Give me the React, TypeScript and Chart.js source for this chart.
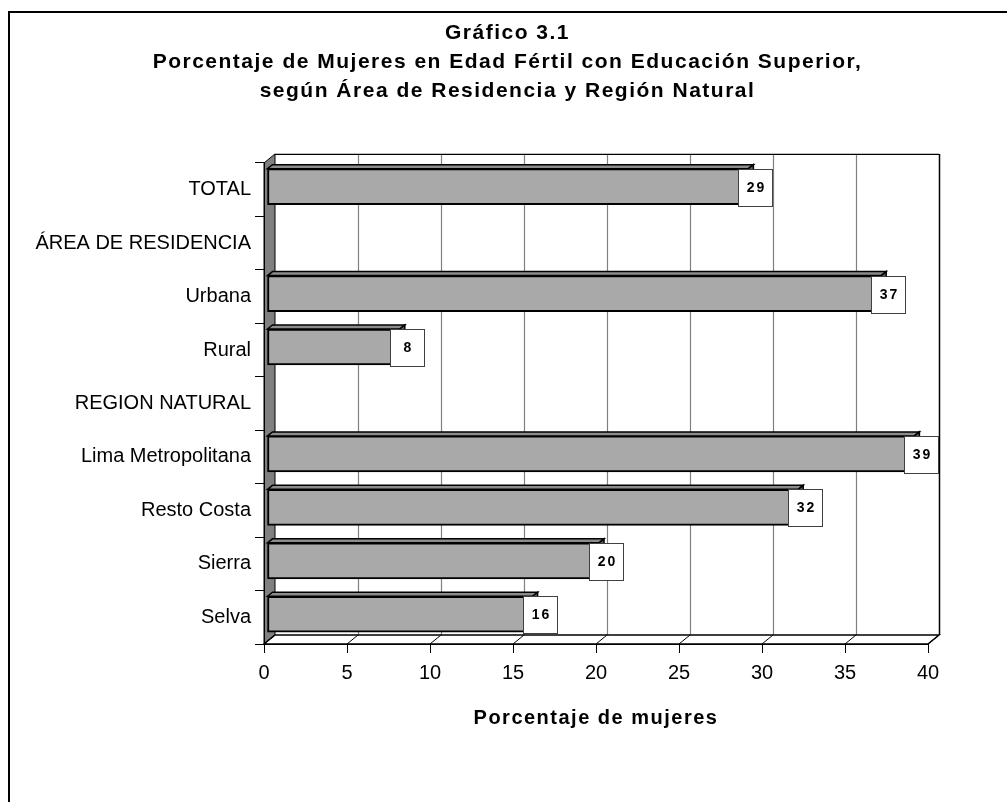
import React, { useEffect, useRef } from 'react';
import { Chart, registerables } from 'chart.js';

Chart.register(...registerables);

const categories = ['TOTAL', 'ÁREA DE RESIDENCIA', 'Urbana', 'Rural', 'REGION NATURAL', 'Lima Metropolitana', 'Resto Costa', 'Sierra', 'Selva'];
const values: (number | null)[] = [29, null, 37, 8, null, 39, 32, 20, 16];
const xTickValues = [0, 5, 10, 15, 20, 25, 30, 35, 40];
const titleLines = ['Gráfico 3.1', 'Porcentaje de Mujeres en Edad Fértil con Educación Superior,', 'según Área de Residencia y Región Natural'];
const xAxisTitle = 'Porcentaje de mujeres';

const FONT = '"Liberation Sans", Arial, Helvetica, sans-serif';
const DX = 11;
const DY = 9;
const BDX = 5;
const BDY = 4;
const SHIFT = 3;

const threeD = {
  id: 'threeD',
  afterDatasetsUpdate(chart: any) {
    const meta = chart.getDatasetMeta(0);
    meta.data.forEach((el: any) => {
      el.x += SHIFT;
      el.base += SHIFT;
      el.y -= SHIFT;
    });
  },
  beforeDraw(chart: any) {
    const ctx = chart.ctx;
    const { left, right, top, bottom } = chart.chartArea;
    const xs = chart.scales.x;
    ctx.save();
    ctx.letterSpacing = '0px';
    // outer border
    ctx.strokeStyle = '#000';
    ctx.lineWidth = 2;
    ctx.beginPath();
    ctx.moveTo(9, 840);
    ctx.lineTo(9, 12);
    ctx.lineTo(1040, 12);
    ctx.stroke();

    // back wall
    ctx.fillStyle = '#fff';
    ctx.fillRect(left + DX, top - DY, right - left, bottom - top);
    xTickValues.forEach((v) => {
      if (v === 0) return;
      const px = Math.round(xs.getPixelForValue(v)) + DX + 0.5;
      ctx.strokeStyle = v === 40 ? '#000' : '#808080';
      ctx.lineWidth = v === 40 ? 1.5 : 1.2;
      ctx.beginPath();
      ctx.moveTo(px, top - DY);
      ctx.lineTo(px, bottom - DY);
      ctx.stroke();
    });
    ctx.strokeStyle = '#000';
    ctx.lineWidth = 1.2;
    ctx.beginPath();
    ctx.moveTo(left + DX, top - DY + 0.5);
    ctx.lineTo(right + DX, top - DY + 0.5);
    ctx.stroke();

    // left wall
    ctx.fillStyle = '#808080';
    ctx.beginPath();
    ctx.moveTo(left, top);
    ctx.lineTo(left + DX, top - DY);
    ctx.lineTo(left + DX, bottom - DY);
    ctx.lineTo(left, bottom);
    ctx.closePath();
    ctx.fill();
    ctx.strokeStyle = '#000';
    ctx.lineWidth = 1;
    ctx.stroke();

    // floor
    ctx.fillStyle = '#fff';
    ctx.beginPath();
    ctx.moveTo(left, bottom);
    ctx.lineTo(right, bottom);
    ctx.lineTo(right + DX, bottom - DY);
    ctx.lineTo(left + DX, bottom - DY);
    ctx.closePath();
    ctx.fill();
    ctx.lineWidth = 1.5;
    ctx.stroke();
    ctx.lineWidth = 1;
    xTickValues.forEach((v) => {
      const px = xs.getPixelForValue(v);
      ctx.beginPath();
      ctx.moveTo(px, bottom);
      ctx.lineTo(px + DX, bottom - DY);
      ctx.stroke();
    });
    ctx.restore();
    // spacing for the chart title and axis title (drawn before the datasets)
    ctx.letterSpacing = '1.5px';
  },
  beforeDatasetsDraw(chart: any) {
    chart.ctx.letterSpacing = '0px';
  },
  afterDatasetsDraw(chart: any) {
    const ctx = chart.ctx;
    const meta = chart.getDatasetMeta(0);
    ctx.save();
    meta.data.forEach((el: any, i: number) => {
      const v = values[i];
      if (v === null || v === undefined) return;
      const xEnd = el.x;
      const x0 = el.base;
      const yTop = el.y - el.height / 2;
      const yBot = el.y + el.height / 2;
      // top face
      ctx.fillStyle = '#8c8c8c';
      ctx.strokeStyle = '#000';
      ctx.lineWidth = 1.5;
      ctx.beginPath();
      ctx.moveTo(x0, yTop);
      ctx.lineTo(x0 + BDX, yTop - BDY);
      ctx.lineTo(xEnd + BDX, yTop - BDY);
      ctx.lineTo(xEnd, yTop);
      ctx.closePath();
      ctx.fill();
      ctx.stroke();
      // right face
      ctx.fillStyle = '#606060';
      ctx.beginPath();
      ctx.moveTo(xEnd, yTop);
      ctx.lineTo(xEnd + BDX, yTop - BDY);
      ctx.lineTo(xEnd + BDX, yBot - BDY);
      ctx.lineTo(xEnd, yBot);
      ctx.closePath();
      ctx.fill();
      ctx.stroke();
      // label box
      const bx = Math.round(xEnd - 10) + 0.5;
      const bw = 34;
      const by = Math.round(yTop) + 0.5;
      const bh = Math.round(yBot - yTop) + 1;
      ctx.fillStyle = '#fff';
      ctx.fillRect(bx, by, bw, bh);
      ctx.strokeStyle = '#404040';
      ctx.lineWidth = 1;
      ctx.strokeRect(bx, by, bw, bh);
      ctx.fillStyle = '#000';
      ctx.font = 'bold 14px ' + FONT;
      ctx.letterSpacing = '2px';
      ctx.textAlign = 'center';
      ctx.textBaseline = 'middle';
      ctx.fillText(String(v), bx + bw / 2 + 1, by + bh / 2);
    });
    ctx.restore();
    ctx.letterSpacing = '0px';
  },
  afterDraw(chart: any) {
    chart.ctx.letterSpacing = '0px';
  },
};

export default function App() {
  const ref = useRef<HTMLCanvasElement | null>(null);
  useEffect(() => {
    if (!ref.current) return;
    const chart = new Chart(ref.current, {
      type: 'bar',
      data: {
        labels: categories,
        datasets: [
          {
            data: values as any,
            backgroundColor: '#a9a9a9',
            borderColor: '#000',
            borderWidth: 2,
            barThickness: 36,
            borderSkipped: false,
          },
        ],
      },
      options: {
        responsive: false,
        animation: false,
        devicePixelRatio: 1,
        indexAxis: 'y',
        layout: { padding: { left: 8, right: 0, top: 0, bottom: 0 } },
        plugins: {
          legend: { display: false },
          tooltip: { enabled: false },
          title: {
            display: true,
            text: titleLines,
            color: '#000',
            font: { family: FONT, size: 21, weight: 'bold', lineHeight: 1.38 },
            padding: { top: 18.5, bottom: 57.5 },
          },
        },
        scales: {
          y: {
            offset: true,
            grid: { offset: true, drawOnChartArea: false, drawTicks: true, tickLength: 9, color: '#000' },
            border: { display: true, color: '#000', width: 1 },
            ticks: { z: 1, color: '#000', font: { family: FONT, size: 20 }, padding: 4, autoSkip: false },
            afterFit: (s: any) => {
              s.width = 256;
            },
          },
          x: {
            type: 'linear',
            min: 0,
            max: 40,
            ticks: { z: 1, stepSize: 5, color: '#000', font: { family: FONT, size: 20 }, padding: 8 },
            grid: { drawOnChartArea: false, drawTicks: true, tickLength: 9, color: '#000' },
            border: { display: true, color: '#000', width: 1 },
            title: {
              display: true,
              text: xAxisTitle,
              color: '#000',
              font: { family: FONT, size: 20, weight: 'bold', lineHeight: 1.2 },
              padding: { top: 0, bottom: 72 },
            },
            afterFit: (s: any) => {
              s.height = 158;
            },
          },
          yRight: {
            type: 'linear',
            position: 'right',
            display: true,
            grid: { display: false },
            ticks: { display: false },
            border: { display: false },
            afterFit: (s: any) => {
              s.width = 79;
            },
          },
        },
      } as any,
      plugins: [threeD],
    });
    return () => chart.destroy();
  }, []);
  return (
    <div style={{ position: 'absolute', left: 0, top: 0, width: 1007, height: 802 }}>
      <canvas ref={ref} width={1007} height={802} style={{ display: 'block' }} />
    </div>
  );
}
